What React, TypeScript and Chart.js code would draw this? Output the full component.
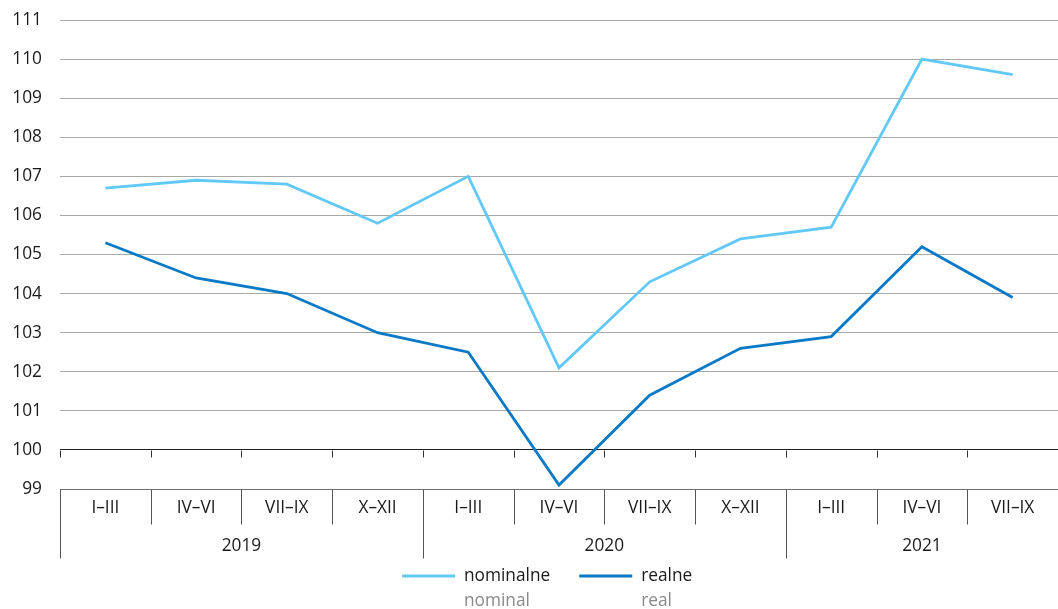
import React, { useEffect, useRef } from "react";
import { Chart, registerables } from "chart.js";

Chart.register(...registerables);

const quarters = ["I–III", "IV–VI", "VII–IX", "X–XII", "I–III", "IV–VI", "VII–IX", "X–XII", "I–III", "IV–VI", "VII–IX"];
const years = ["2019", "2020", "2021"];
const yearSpans = [4, 4, 3];
const nominal = [106.7, 106.9, 106.8, 105.8, 107.0, 102.1, 104.3, 105.4, 105.7, 110.0, 109.6];
const real = [105.3, 104.4, 104.0, 103.0, 102.5, 99.1, 101.4, 102.6, 102.9, 105.2, 103.9];
const seriesNames = ["nominalne", "realne"];
const seriesNamesEn = ["nominal", "real"];
const yMin = 99;
const yMax = 111;

const FONT = '"Open Sans", "Noto Sans", sans-serif';
const FONT_SIZE = 17.3;
const COLORS = ["#62c9f7", "#0a79c6"];

const axisPlugin = {
  id: "customAxis",
  afterDraw(chart: any) {
    const ctx = chart.ctx as CanvasRenderingContext2D;
    const xs = chart.scales.x;
    const ys = chart.scales.y;
    const area = chart.chartArea;
    const n = quarters.length;
    const centers = quarters.map((_, i) => xs.getPixelForValue(i));
    const bounds: number[] = [area.left];
    for (let i = 0; i < n - 1; i++) bounds.push((centers[i] + centers[i + 1]) / 2);
    bounds.push(area.right);
    const y100 = Math.round(ys.getPixelForValue(100)) + 0.5;
    const y99 = Math.round(ys.getPixelForValue(99)) + 0.5;

    ctx.save();
    // small ticks under the 100 line
    ctx.strokeStyle = "#333";
    ctx.lineWidth = 1;
    ctx.beginPath();
    for (let i = 0; i < n; i++) {
      const bx = Math.round(bounds[i]) + 0.5;
      ctx.moveTo(bx, y100);
      ctx.lineTo(bx, y100 + 7);
    }
    ctx.stroke();

    // category separators
    const level1 = 35;
    const level2 = 69;
    const yearStarts: number[] = [];
    let acc = 0;
    yearSpans.forEach((s) => {
      yearStarts.push(acc);
      acc += s;
    });
    ctx.strokeStyle = "#555";
    ctx.beginPath();
    for (let i = 0; i < n; i++) {
      const bx = Math.round(bounds[i]) + 0.5;
      const isYear = yearStarts.includes(i);
      ctx.moveTo(bx, y99);
      ctx.lineTo(bx, y99 + (isYear ? level2 : level1));
    }
    ctx.stroke();

    // quarter labels
    ctx.fillStyle = "#1a1a1a";
    ctx.font = `${FONT_SIZE}px ${FONT}`;
    ctx.textAlign = "center";
    ctx.textBaseline = "middle";
    for (let i = 0; i < n; i++) {
      ctx.fillText(quarters[i], centers[i], y99 + 19);
    }
    // year labels
    years.forEach((yr, k) => {
      const s = yearStarts[k];
      const e = s + yearSpans[k];
      const cx = (bounds[s] + bounds[e]) / 2;
      ctx.fillText(yr, cx, y99 + 57);
    });

    // legend
    let lx = 402;
    const ly = 576;
    const lineLen = 53;
    ctx.textAlign = "left";
    seriesNames.forEach((name, k) => {
      ctx.strokeStyle = COLORS[k];
      ctx.lineWidth = 3;
      ctx.beginPath();
      ctx.moveTo(lx, ly);
      ctx.lineTo(lx + lineLen, ly);
      ctx.stroke();
      const tx = lx + lineLen + 9;
      ctx.fillStyle = "#1a1a1a";
      ctx.fillText(name, tx, ly);
      ctx.fillStyle = "#8a8a8a";
      ctx.fillText(seriesNamesEn[k], tx, ly + 25);
      const w = ctx.measureText(name).width;
      lx = tx + w + 29;
    });
    ctx.restore();
  },
};

export default function App() {
  const ref = useRef<HTMLCanvasElement | null>(null);
  useEffect(() => {
    document.body.style.margin = "0";
    const canvas = ref.current!;
    const chart = new Chart(canvas, {
      type: "line",
      data: {
        labels: quarters,
        datasets: [
          {
            label: seriesNames[0],
            data: nominal,
            borderColor: COLORS[0],
            backgroundColor: COLORS[0],
            borderWidth: 2.8,
            pointRadius: 0,
            tension: 0,
          },
          {
            label: seriesNames[1],
            data: real,
            borderColor: COLORS[1],
            backgroundColor: COLORS[1],
            borderWidth: 2.8,
            pointRadius: 0,
            tension: 0,
          },
        ],
      },
      options: {
        responsive: false,
        animation: false,
        layout: { padding: { top: 20, bottom: 120, left: 0, right: 0 } },
        plugins: { legend: { display: false }, tooltip: { enabled: false } },
        scales: {
          x: {
            type: "category",
            display: false,
            offset: true,
          },
          y: {
            min: yMin,
            max: yMax,
            afterFit(scale: any) {
              scale.width = 60;
              scale.paddingTop = 0;
              scale.paddingBottom = 0;
            },
            border: { display: false },
            grid: {
              drawTicks: false,
              lineWidth: 1,
              color: (c: any) =>
                c.tick && c.tick.value === 100 ? "#222" : c.tick && c.tick.value === 99 ? "#707070" : "#a8a8a8",
            },
            ticks: {
              stepSize: 1,
              padding: 18,
              color: "#1a1a1a",
              font: { family: FONT, size: FONT_SIZE },
            },
          },
        },
      },
      plugins: [axisPlugin],
    });
    return () => chart.destroy();
  }, []);
  return (
    <canvas
      ref={ref}
      width={1058}
      height={609}
      style={{ position: "absolute", left: 0, top: 0, width: 1058, height: 609, display: "block" }}
    />
  );
}
